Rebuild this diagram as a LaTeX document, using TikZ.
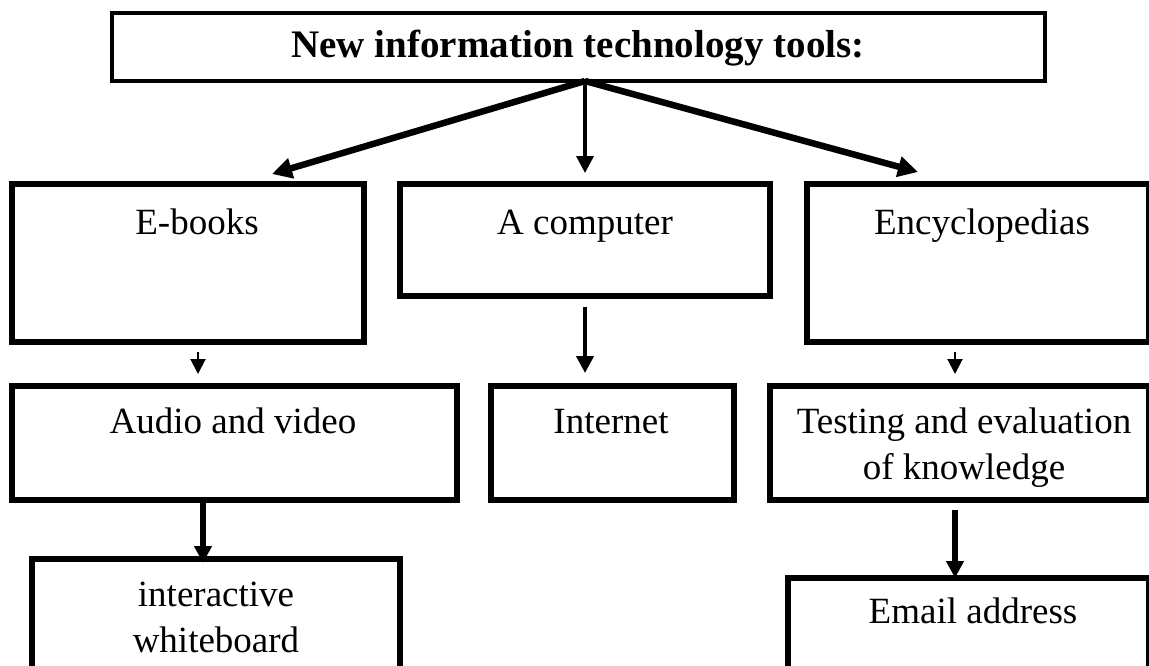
\documentclass[tikz,border=0pt]{standalone}
\usepackage{fontspec}
\setmainfont{Liberation Serif}
\usetikzlibrary{arrows.meta,calc}
\begin{document}
\begin{tikzpicture}[x=1pt,y=-1pt,
  box/.style={draw=black,line width=6pt,rectangle,inner sep=0pt,outer sep=0pt},
  lbl/.style={anchor=base,inner sep=0pt,align=center,font=\fontsize{37}{46}\selectfont},
  arr/.style={-{Triangle[length=17pt,width=17pt]},line width=#1},
  arr/.default=4pt]
\useasboundingbox (0,0) rectangle (1149,665);
\clip (0,0) rectangle (1149,665);
% boxes
\node[box,line width=4.5pt,minimum width=933pt,minimum height=68pt] (title) at (578.5,47) {};
\node[box,minimum width=352pt,minimum height=158pt] (ebooks) at (188,263) {};
\node[box,minimum width=370pt,minimum height=112pt] (computer) at (585,240) {};
\node[box,minimum width=342pt,minimum height=158pt] (ency) at (978,263) {};
\node[box,minimum width=445pt,minimum height=114pt] (audio) at (234.5,443) {};
\node[box,minimum width=243pt,minimum height=114pt] (internet) at (612.5,443) {};
\node[box,minimum width=379pt,minimum height=114pt] (testing) at (959.5,443) {};
\node[box,minimum width=368pt,minimum height=160pt] (interactive) at (216,639) {};
\node[box,minimum width=361pt,minimum height=160pt] (email) at (968.5,658) {};
% texts
\node[lbl,font=\fontsize{39}{46}\bfseries] (titleT) at (578,57) {New information technology tools:};
\node[lbl] (ebooksT) at (197,234) {E-books};
\node[lbl] (computerT) at (585,234) {A computer};
\node[lbl] (encyT) at (982,234) {Encyclopedias};
\node[lbl] (audioT) at (233,433) {Audio and video};
\node[lbl] (internetT) at (611,433) {Internet};
\node[lbl] (testingT) at (964,479) {Testing and evaluation\\of knowledge};
\node[lbl] (interactiveT) at (216,652) {interactive\\whiteboard};
\node[lbl] (emailT) at (973,623) {Email address};
% connectors
\coordinate (root) at (title.south -| computer.north);
\draw[-{Triangle[length=20pt,width=20pt]},line width=6.5pt] (root) -- ($(ebooks.north)+(84,-10)$);
\draw[arr=3.5pt] (root) -- ($(computer.north)+(0,-11)$);
\draw[-{Triangle[length=20pt,width=20pt]},line width=6.5pt] (root) -- ($(ency.north)+(-60,-12)$);
\draw[-{Triangle[length=15pt,width=15pt]},line width=2pt] ($(ebooks.south)+(10,10)$) -- ($(audio.north -| ebooks.south)+(10,-12)$);
\draw[arr=4pt] ($(computer.south)+(0,11)$) -- ($(internet.north -| computer.south)+(0,-13)$);
\draw[-{Triangle[length=15pt,width=15pt]},line width=2pt] ($(ency.south)+(-23,10)$) -- ($(testing.north -| ency.south)+(-23,-12)$);
\draw[arr=5.5pt] ($(audio.south)+(-31.5,0)$) -- ($(interactive.north)+(-13,4)$);
\draw[arr=5.5pt] ($(testing.south)+(-4.5,10)$) -- ($(email.north)+(-13.5,0)$);
\end{tikzpicture}
\end{document}
